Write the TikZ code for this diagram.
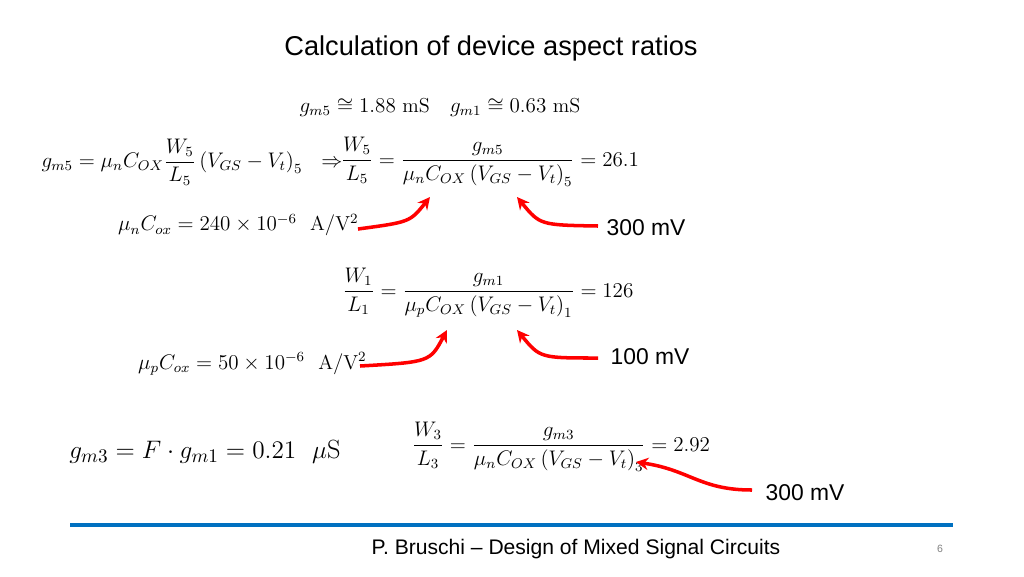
\documentclass[tikz,border=0pt]{standalone}
\usepackage{fontspec}
\usepackage{amsmath,amssymb}
\setsansfont{Liberation Sans}
\usetikzlibrary{arrows.meta}
\definecolor{slideblue}{RGB}{0,112,192}
\begin{document}
\begin{tikzpicture}[x=0.02cm,y=-0.02cm,
  eq/.style={font=\fontsize{11.5}{14}\selectfont},
  lbl/.style={font=\sffamily\fontsize{13}{15}\selectfont},
  red arrow/.style={-{Stealth[length=7pt,width=7pt]},red,line width=2pt}]
\useasboundingbox (0,0) rectangle (1024,576);
\node[font=\sffamily\fontsize{15.5}{18}\selectfont] (title) at (491,48) {Calculation of device aspect ratios};
\node[eq] (gm) at (440,107) {$g_{m5}\cong 1.88\ \mathrm{mS}\quad g_{m1}\cong 0.63\ \mathrm{mS}$};
\node[eq] (eq5a) at (192,162) {$g_{m5}=\mu_n C_{OX}\dfrac{W_5}{L_5}\left(V_{GS}-V_t\right)_5\ \ \Rightarrow$};
\node[eq] (eq5b) at (490,162) {$\dfrac{W_5}{L_5}=\dfrac{g_{m5}}{\mu_n C_{OX}\left(V_{GS}-V_t\right)_5}=26.1$};
\node[eq,anchor=west] (mun) at (112,225) {$\mu_n C_{ox}=240\times10^{-6}\ \ \mathrm{A/V^2}$};
\coordinate (a1s) at (358,229);
\coordinate (a1e) at (430,197);
\coordinate (a2s) at (598,226);
\coordinate (a2e) at (517,197);
\node[lbl] (mv5) at (646,228) {300 mV};
\node[eq] (eq1) at (488,293) {$\dfrac{W_1}{L_1}=\dfrac{g_{m1}}{\mu_p C_{OX}\left(V_{GS}-V_t\right)_1}=126$};
\node[eq,anchor=west] (mup) at (132,364) {$\mu_p C_{ox}=50\times10^{-6}\ \ \mathrm{A/V^2}$};
\coordinate (b1s) at (360,366);
\coordinate (b1e) at (447,330);
\coordinate (b2s) at (598,358);
\coordinate (b2e) at (517,330);
\node[lbl] (mv1) at (650,357) {100 mV};
\node[font=\fontsize{15}{17}\selectfont] (gm3) at (205,452) {$g_{m3}=F\cdot g_{m1}=0.21\ \ \mu\mathrm{S}$};
\node[eq] (eq3) at (561,447) {$\dfrac{W_3}{L_3}=\dfrac{g_{m3}}{\mu_n C_{OX}\left(V_{GS}-V_t\right)_3}=2.92$};
\coordinate (c1s) at (752,490);
\coordinate (c1e) at (636,462);
\node[lbl] (mv3) at (805,493) {300 mV};
\draw[red arrow] (a1s) .. controls (410,222) .. (a1e);
\draw[red arrow] (a2s) .. controls (540,225) .. (a2e);
\draw[red arrow] (b1s) .. controls (430,362) .. (b1e);
\draw[red arrow] (b2s) .. controls (540,358) .. (b2e);
\draw[red arrow] (c1s) .. controls (700,490) and (690,470) .. (c1e);
\coordinate (ruleL) at (70,525);
\coordinate (ruleR) at (953,525);
\draw[slideblue,line width=2pt] (ruleL) -- (ruleR);
\node[font=\sffamily\fontsize{12}{14}\selectfont] (foot) at (576,549) {P. Bruschi -- Design of Mixed Signal Circuits};
\node[font=\sffamily\fontsize{6}{7}\selectfont,text=gray] (page) at (940,549) {6};
\end{tikzpicture}
\end{document}
